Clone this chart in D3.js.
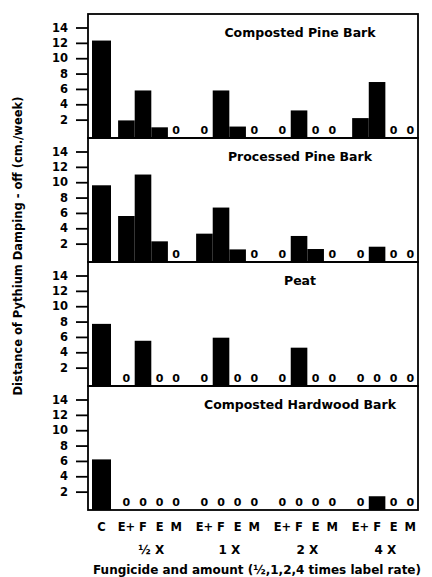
<!DOCTYPE html>
<html>
  <head>
    <meta charset="utf-8">
    <title>Pythium damping-off by medium and fungicide</title>
    <script src="https://d3js.org/d3.v7.min.js"></script>
    <style>
      body { margin: 0; background: #fff; }
      text { font-family: "DejaVu Sans", sans-serif; font-weight: bold; fill: #000; }
    </style>
  </head>
  <body>
    <div id="chart"></div>
    <script>
      // data
      var media = ["Composted Pine Bark", "Processed Pine Bark", "Peat", "Composted Hardwood Bark"];
      var fungicides = ["E+", "F", "E", "M"];
      var amounts = ["½ X", "1 X", "2 X", "4 X"];
      var control = [12.3, 9.6, 7.7, 6.2];
      // one row per amount (½,1,2,4 X), columns follow fungicides
      var compostedPine = [[1.9, 5.8, 1.0, 0], [0, 5.8, 1.1, 0], [0, 3.2, 0, 0], [2.2, 6.9, 0, 0]];
      var processedPine = [[5.6, 11.0, 2.3, 0], [3.3, 6.7, 1.25, 0], [0, 3.0, 1.3, 0], [0, 1.6, 0, 0]];
      var peat = [[0, 5.5, 0, 0], [0, 5.9, 0, 0], [0, 4.6, 0, 0], [0, 0, 0, 0]];
      var hardwood = [[0, 0, 0, 0], [0, 0, 0, 0], [0, 0, 0, 0], [0, 1.4, 0, 0]];
      var yTicks = [2, 4, 6, 8, 10, 12, 14];

      var treated = [compostedPine, processedPine, peat, hardwood];

      var W = 432, H = 577;
      var left = 88, right = 418, plotTop = 14, ph = 124;

      var svg = d3.select("#chart").append("svg")
          .attr("width", W)
          .attr("height", H);

      // slot position: control at 0, groups of four after a gap
      function slot(g, i) { return 1.5 + 4.7 * g + i; }
      var x = d3.scaleLinear().domain([0, 1]).range([101.5, 118.1]);
      var bw = x(1) - x(0);
      var cw = 19;

      var y = d3.scaleLinear().domain([0, 14]).range([ph - 3, 13.5]);

      media.forEach(function(name, p) {
        var g = svg.append("g")
          .attr("transform", "translate(0," + (plotTop + p * ph) + ")");

        // flatten into bars
        var bars = [{ pos: 0, v: control[p], w: cw }];
        treated[p].forEach(function(row, a) {
          row.forEach(function(v, i) {
            bars.push({ pos: slot(a, i), v: v, w: bw });
          });
        });

        g.selectAll("rect.bar")
          .data(bars.filter(function(d) { return d.v > 0; }))
          .enter().append("rect")
            .attr("class", "bar")
            .attr("x", function(d) { return x(d.pos) - d.w / 2; })
            .attr("y", function(d) { return y(d.v); })
            .attr("width", d => d.w)
            .attr("height", function(d) { return ph - y(d.v); })
            .attr("fill", "#000");

        g.selectAll("text.zero")
          .data(bars.filter(function(d) { return d.v === 0; }))
          .enter().append("text")
            .attr("class", "zero")
            .attr("x", function(d) { return x(d.pos); })
            .attr("y", ph - 4)
            .attr("text-anchor", "middle")
            .style("font-size", "11px")
            .text("0");

        // frame
        g.append("rect")
          .attr("x", left)
          .attr("y", 0)
          .attr("width", right - left)
          .attr("height", ph)
          .attr("fill", "none")
          .attr("stroke", "#000")
          .attr("stroke-width", 1.8);

        // y axis
        var ax = g.append("g")
          .attr("transform", "translate(" + left + ",0)")
          .call(d3.axisLeft(y).tickValues(yTicks).tickSize(12).tickPadding(8));
        ax.select(".domain").remove();
        ax.selectAll("line").attr("stroke", "#000").attr("stroke-width", 1.8);
        ax.selectAll("text")
          .style("font-size", "11.5px")
          .style("font-family", "DejaVu Sans")
          .style("font-weight", "bold");

        g.append("text")
          .attr("x", 300)
          .attr("y", 23)
          .attr("text-anchor", "middle")
          .style("font-size", "12.5px")
          .text(name);
      });

      // category labels under the bottom panel
      var labels = [{ pos: 0, t: "C" }];
      amounts.forEach(function(a, g) {
        fungicides.forEach(function(f, i) {
          labels.push({ pos: slot(g, i), t: f });
        });
      });
      svg.selectAll("text.cat")
        .data(labels)
        .enter().append("text")
          .attr("class", "cat")
          .attr("x", function(d) { return x(d.pos); })
          .attr("y", 531)
          .attr("text-anchor", "middle")
          .style("font-size", "11.5px")
          .text(function(d) { return d.t; });

      svg.selectAll("text.amt")
        .data(amounts)
        .enter().append("text")
          .attr("class", "amt")
          .attr("x", function(d, g) { return (x(slot(g, 0)) + x(slot(g, 3))) / 2; })
          .attr("y", 554)
          .attr("text-anchor", "middle")
          .style("font-size", "12px")
          .text(function(d) { return d; });

      svg.append("text")
        .attr("x", 257)
        .attr("y", 574)
        .attr("text-anchor", "middle")
        .style("font-size", "12px")
        .text("Fungicide and amount (½,1,2,4 times label rate)");

      svg.append("text")
        .attr("transform", "translate(22,246)rotate(-90)")
        .attr("text-anchor", "middle")
        .style("font-size", "11.5px")
        .text("Distance of Pythium Damping - off (cm./week)");
    </script>
  </body>
</html>
